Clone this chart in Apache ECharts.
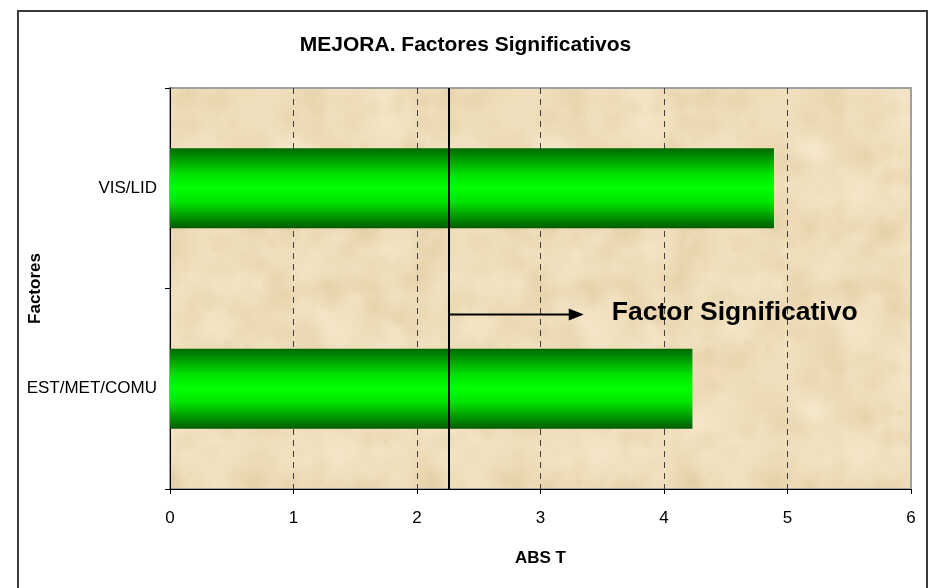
<!DOCTYPE html>
<html>
<head>
<meta charset="utf-8">
<title>MEJORA. Factores Significativos</title>
<script src="https://cdn.jsdelivr.net/npm/echarts@6/dist/echarts.min.js"></script>
<style>
  html, body { margin: 0; padding: 0; background: #ffffff; }
  #chart { width: 931px; height: 588px; }
</style>
</head>
<body>
<div id="chart"></div>
<script>
// Factors (bottom to top) and their absolute t values
const factores = ['EST/MET/COMU', 'VIS/LID'];
const absT = [4.23, 4.89];
// Critical t value marked by the vertical reference line
const tCritico = 2.26;
// End of the annotation arrow (in ABS T units) and its height between the two bars
const flechaFin = 3.35;
const flechaNivel = 0.37;
const xTicks = [0, 1, 2, 3, 4, 5, 6];

const FONT = 'Arial, "Liberation Sans", Helvetica, sans-serif';

// Parchment-like texture for the plot background (seeded so it is stable)
function parchment() {
  const size = 260;
  const c = document.createElement('canvas');
  c.width = size; c.height = size;
  const g = c.getContext('2d');
  g.fillStyle = '#f0dfbc';
  g.fillRect(0, 0, size, size);
  let s = 12345;
  const rnd = () => { s = (s * 1103515245 + 12345) & 0x7fffffff; return s / 0x7fffffff; };
  for (let i = 0; i < 420; i++) {
    const x = rnd() * size, y = rnd() * size, r = 4 + rnd() * 22;
    const light = rnd() > 0.5;
    const col = light ? '249,238,214' : '222,198,152';
    const a = 0.10 + rnd() * 0.22;
    for (let dx = -size; dx <= size; dx += size) {
      for (let dy = -size; dy <= size; dy += size) {
        const gr = g.createRadialGradient(x + dx, y + dy, 0, x + dx, y + dy, r);
        gr.addColorStop(0, 'rgba(' + col + ',' + a + ')');
        gr.addColorStop(1, 'rgba(' + col + ',0)');
        g.fillStyle = gr;
        g.fillRect(x + dx - r, y + dy - r, 2 * r, 2 * r);
      }
    }
  }
  return c;
}

const chart = echarts.init(document.getElementById('chart'), null, { renderer: 'canvas' });

const barGradient = new echarts.graphic.LinearGradient(0, 0, 0, 1, [
  { offset: 0, color: '#006800' },
  { offset: 0.33, color: '#00e400' },
  { offset: 0.5, color: '#00ff00' },
  { offset: 0.67, color: '#00e400' },
  { offset: 1, color: '#005a00' }
]);

chart.setOption({
  animation: false,
  backgroundColor: '#ffffff',
  title: {
    text: 'MEJORA. Factores Significativos',
    left: 'center',
    top: 30,
    textStyle: { fontFamily: FONT, fontSize: 21, fontWeight: 'bold', color: '#000' }
  },
  grid: {
    left: 170, right: 20, top: 88, bottom: 99,
    outerBoundsMode: 'none',
    containLabel: false,
    show: true,
    backgroundColor: { image: parchment(), repeat: 'repeat' },
    borderColor: '#a0a0a0',
    borderWidth: 2
  },
  xAxis: {
    type: 'value',
    min: xTicks[0],
    max: xTicks[xTicks.length - 1],
    interval: 1,
    name: 'ABS T',
    nameLocation: 'middle',
    nameGap: 61,
    nameMoveOverlap: false,
    nameTextStyle: { fontFamily: FONT, fontSize: 17, fontWeight: 'bold', color: '#000' },
    axisLine: { show: true, lineStyle: { color: '#000', width: 1 } },
    axisTick: { show: true, length: 5, lineStyle: { color: '#000' } },
    axisLabel: { fontFamily: FONT, fontSize: 17, color: '#000', margin: 21 },
    splitLine: {
      show: true, showMinLine: false, showMaxLine: false,
      lineStyle: { color: '#404040', type: [6, 5], width: 1 }
    }
  },
  yAxis: {
    type: 'category',
    data: factores,
    name: 'Factores',
    nameLocation: 'middle',
    nameGap: 126,
    nameRotate: 90,
    nameMoveOverlap: false,
    nameTextStyle: { fontFamily: FONT, fontSize: 17, fontWeight: 'bold', color: '#000' },
    axisLine: { show: true, lineStyle: { color: '#000', width: 1 } },
    axisTick: { show: true, length: 5, alignWithLabel: false, lineStyle: { color: '#000' } },
    axisLabel: { fontFamily: FONT, fontSize: 17, color: '#000', margin: 13 },
    splitLine: { show: false }
  },
  series: [{
    type: 'bar',
    data: absT,
    barWidth: 80,
    itemStyle: { color: barGradient },
    z: 2,
    markLine: {
      silent: true,
      symbol: 'none',
      label: { show: false },
      lineStyle: { color: '#000', width: 2, type: 'solid' },
      data: [{ xAxis: tCritico }],
      z: 5
    }
  }]
});

// Annotation: arrow from the critical line to the right, with its caption
const p0 = chart.convertToPixel({ gridIndex: 0 }, [tCritico, 0]);
const p1 = chart.convertToPixel({ gridIndex: 0 }, [tCritico, 1]);
const yArrow = p0[1] + flechaNivel * (p1[1] - p0[1]);
const xStart = p0[0];
const xEnd = chart.convertToPixel({ xAxisIndex: 0 }, flechaFin);
const head = 15;

chart.setOption({
  graphic: [
    {
      type: 'rect',
      shape: { x: 18, y: 11, width: 909, height: 620 },
      style: { fill: 'none', stroke: '#3a3a3a', lineWidth: 2 },
      silent: true, z: 0
    },
    {
      type: 'line',
      shape: { x1: xStart, y1: yArrow, x2: xEnd - head + 2, y2: yArrow },
      style: { stroke: '#000', lineWidth: 2 },
      z: 10
    },
    {
      type: 'polygon',
      shape: { points: [[xEnd, yArrow], [xEnd - head, yArrow - 6], [xEnd - head, yArrow + 6]] },
      style: { fill: '#000' },
      z: 10
    },
    {
      type: 'text',
      x: xEnd + 28,
      y: yArrow - 2,
      style: {
        text: 'Factor Significativo',
        font: 'bold 26.5px ' + FONT,
        fill: '#000',
        textVerticalAlign: 'middle',
        verticalAlign: 'middle'
      },
      z: 10
    }
  ]
});
</script>
</body>
</html>
